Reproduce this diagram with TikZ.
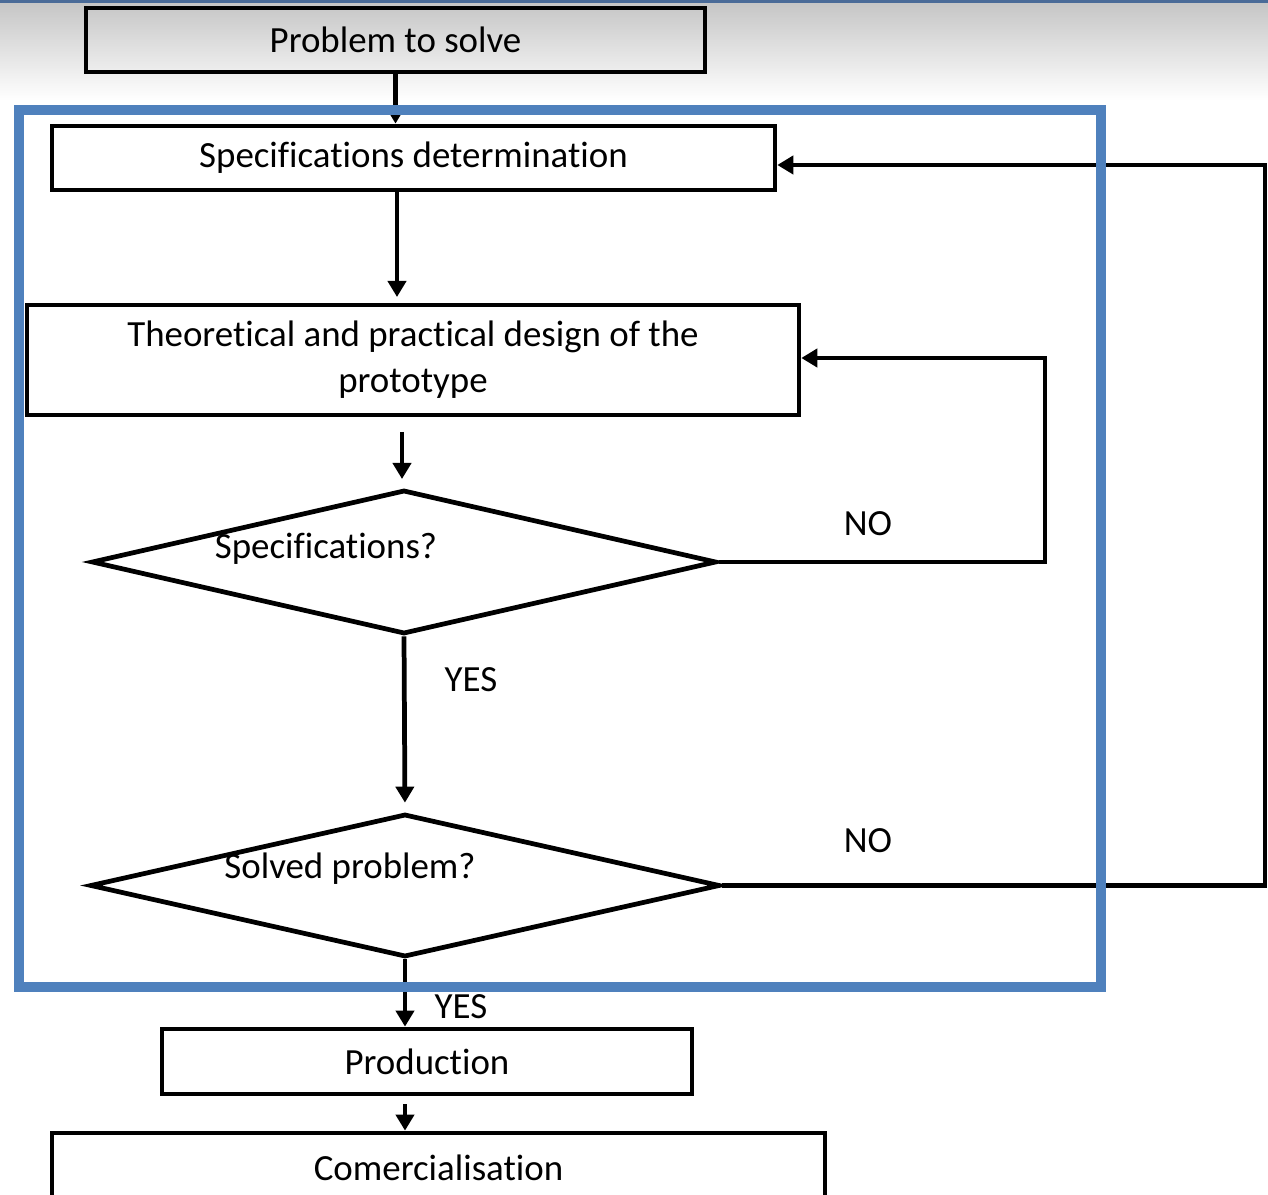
\documentclass[tikz,border=0pt]{standalone}
\usepackage{fontspec}
\setmainfont{Carlito}[RawFeature={-liga;-clig;-calt;-dlig}]
\usetikzlibrary{positioning,arrows.meta,shapes.geometric}
\definecolor{frameblue}{HTML}{4F81BD}
\definecolor{topband}{HTML}{4A6B98}

\begin{document}
\begin{tikzpicture}[x=0.02cm,y=-0.02cm,
    font=\fontsize{21}{26}\selectfont,
    box/.style={draw,line width=2.7pt,inner sep=0pt,align=center},
    choice/.style={diamond,draw,line width=2.7pt,inner sep=0pt},
    arr/.style={line width=2.7pt,-{Triangle[length=0.32cm,width=0.36cm]}}]
    \useasboundingbox (0,0) rectangle (1268,1195);
    \clip (0,0) rectangle (1268,1195);
    % slide background
    \shade[top color=gray!45,bottom color=white] (0,3) rectangle (1268,100);
    \fill[topband] (0,0) rectangle (1268,3);

    \node[box,minimum width=12.38cm,minimum height=1.28cm] (prob) at (395.5,40) {Problem to solve};
    \node[box,minimum width=14.46cm,minimum height=1.28cm] (spec) at (413.5,158) {Specifications determination};
    \node[box,minimum width=15.44cm,minimum height=2.2cm] (design) at (413,360) {Theoretical and practical design of the\\prototype};
    \node[choice,minimum width=12.5cm,minimum height=2.88cm] (d1) at (404,562) {};
    \node (t1) at (326,549) {Specifications?};
    \node[choice,minimum width=12.6cm,minimum height=2.86cm] (d2) at (405,885.5) {};
    \node (t2) at (350,869) {Solved problem?};
    \node[box,minimum width=10.6cm,minimum height=1.3cm] (prod) at (427,1061.5) {Production};
    \node[box,minimum width=15.46cm,minimum height=1.4cm] (comm) at (438.5,1168) {Comercialisation};

    \node (no1) at (868,524) {NO};
    \node (yes1) at (471,680) {YES};
    \node (no2) at (868,841) {NO};
    \node (yes2) at (461,1007) {YES};

    \coordinate (a1) at (397,297);
    \coordinate (a2) at (402,432);
    \coordinate (a3) at (402,479);
    \coordinate (a4) at (405,1104);
    \coordinate (c1) at (1045,358);
    \coordinate (c2) at (1265,165);

    \draw[arr] (prob.south) -- (prob.south |- spec.north);
    \draw[arr] (spec.south -| a1) -- (a1);
    \draw[arr] (a2) -- (a3);
    \draw[arr,shorten >=0.18cm] (d1.south) -- (d2.north);
    \draw[arr] (d2.south) -- (d2.south |- prod.north);
    \draw[arr] (a4) -- (a4 |- comm.north);
    \draw[arr] (d1.east) -| (c1) -- (c1 -| design.east);
    \draw[arr] (d2.east) -| (c2) -- (c2 -| spec.east);

    \draw[frameblue,line width=5.7pt] (19,110) rectangle (1101,987);
\end{tikzpicture}
\end{document}
